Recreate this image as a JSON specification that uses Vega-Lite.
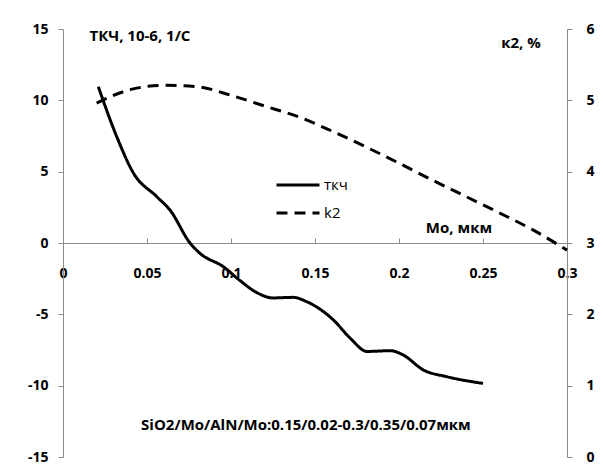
{
  "$schema": "https://vega.github.io/schema/vega-lite/v6.json",
  "width": 504,
  "height": 428,
  "autosize": "none",
  "padding": {"left": 63, "top": 29, "right": 36, "bottom": 11},
  "background": "white",
  "config": {
    "view": {"stroke": null},
    "font": "Open Sans",
    "axis": {"domainColor": "#8c8c8c", "tickColor": "#8c8c8c", "labelColor": "black", "labelFont": "Open Sans", "labelFontWeight": "bold", "labelFontSize": 14, "grid": false, "title": null}
  },
  "datasets": {
    "curves": [
      {"x": 0.021, "y": 10.96, "s": "ткч"},
      {"x": 0.032, "y": 7.45, "s": "ткч"},
      {"x": 0.042, "y": 4.89, "s": "ткч"},
      {"x": 0.0558, "y": 3.25, "s": "ткч"},
      {"x": 0.0637, "y": 2.31, "s": "ткч"},
      {"x": 0.0756, "y": 0.0, "s": "ткч"},
      {"x": 0.0815, "y": -0.72, "s": "ткч"},
      {"x": 0.0954, "y": -1.66, "s": "ткч"},
      {"x": 0.105, "y": -2.6, "s": "ткч"},
      {"x": 0.115, "y": -3.45, "s": "ткч"},
      {"x": 0.125, "y": -3.85, "s": "ткч"},
      {"x": 0.137, "y": -3.81, "s": "ткч"},
      {"x": 0.145, "y": -4.11, "s": "ткч"},
      {"x": 0.161, "y": -5.4, "s": "ткч"},
      {"x": 0.171, "y": -6.68, "s": "ткч"},
      {"x": 0.181, "y": -7.6, "s": "ткч"},
      {"x": 0.195, "y": -7.55, "s": "ткч"},
      {"x": 0.2025, "y": -7.85, "s": "ткч"},
      {"x": 0.2145, "y": -8.9, "s": "ткч"},
      {"x": 0.2284, "y": -9.37, "s": "ткч"},
      {"x": 0.25, "y": -9.84, "s": "ткч"},
      {"x": 0.02, "y": 4.96, "s": "k2"},
      {"x": 0.04, "y": 5.15, "s": "k2"},
      {"x": 0.06, "y": 5.21, "s": "k2"},
      {"x": 0.08, "y": 5.19, "s": "k2"},
      {"x": 0.1, "y": 5.07, "s": "k2"},
      {"x": 0.12, "y": 4.92, "s": "k2"},
      {"x": 0.14, "y": 4.77, "s": "k2"},
      {"x": 0.16, "y": 4.57, "s": "k2"},
      {"x": 0.18, "y": 4.35, "s": "k2"},
      {"x": 0.2, "y": 4.12, "s": "k2"},
      {"x": 0.22, "y": 3.88, "s": "k2"},
      {"x": 0.24, "y": 3.65, "s": "k2"},
      {"x": 0.26, "y": 3.42, "s": "k2"},
      {"x": 0.28, "y": 3.18, "s": "k2"},
      {"x": 0.3, "y": 2.9, "s": "k2"}
    ],
    "notes": [
      {"x": 0.0458, "y": 14.5, "t": "ТКЧ, 10-6, 1/С"},
      {"x": 0.2726, "y": 14.0, "t": "к2, %"},
      {"x": 0.2357, "y": 1.05, "t": "Мо, мкм"},
      {"x": 0.1446, "y": -12.75, "t": "SiO2/Mo/AlN/Mo:0.15/0.02-0.3/0.35/0.07мкм"}
    ]
  },
  "layer": [
    {
      "data": {"name": "curves"},
      "transform": [{"filter": "datum.s === 'ткч'"}],
      "mark": {"type": "line", "interpolate": "monotone", "strokeWidth": 3, "color": "black"},
      "encoding": {
        "x": {"field": "x", "type": "quantitative", "scale": {"domain": [0, 0.3], "nice": false, "zero": false},
              "axis": {"values": [0, 0.05, 0.1, 0.15, 0.2, 0.25, 0.3], "labelExpr": "datum.value === 0 ? '0' : format(datum.value, '.2~f')", "offset": -214, "tickSize": -5, "labelPadding": 28, "labelFlush": false}},
        "y": {"field": "y", "type": "quantitative", "scale": {"domain": [-15, 15], "nice": false},
              "axis": {"orient": "left", "values": [-15, -10, -5, 0, 5, 10, 15], "labelExpr": "replace(datum.label, '−', '-')", "tickSize": 5, "labelPadding": 10}},
        "strokeDash": {"field": "s", "type": "nominal", "scale": {"domain": ["ткч", "k2"], "range": [[1, 0], [11, 7]]},
          "legend": {"title": null, "orient": "none", "legendX": 212, "legendY": 148, "symbolType": "stroke", "symbolSize": 1849, "clipHeight": 16, "symbolStrokeWidth": 3, "symbolStrokeColor": "black", "labelFontSize": 15, "labelFont": "Open Sans", "labelColor": "#000000", "rowPadding": 12, "labelOffset": 3}}
      }
    },
    {
      "data": {"name": "curves"},
      "transform": [{"filter": "datum.s === 'k2'"}],
      "mark": {"type": "line", "interpolate": "monotone", "strokeWidth": 3, "color": "black"},
      "encoding": {
        "x": {"field": "x", "type": "quantitative"},
        "y": {"field": "y", "type": "quantitative", "scale": {"domain": [0, 6], "nice": false},
              "axis": {"orient": "right", "values": [0, 1, 2, 3, 4, 5, 6], "tickSize": 5, "labelPadding": 14}},
        "strokeDash": {"field": "s", "type": "nominal"}
      }
    },
    {
      "data": {"name": "notes"},
      "mark": {"type": "text", "font": "Open Sans", "fontWeight": "bold", "fontSize": 15, "color": "black", "baseline": "middle", "align": "center"},
      "encoding": {
        "x": {"field": "x", "type": "quantitative"},
        "y": {"field": "y", "type": "quantitative", "scale": {"domain": [-15, 15], "nice": false}, "axis": null},
        "text": {"field": "t"}
      }
    }
  ],
  "resolve": {"scale": {"y": "independent"}}
}
